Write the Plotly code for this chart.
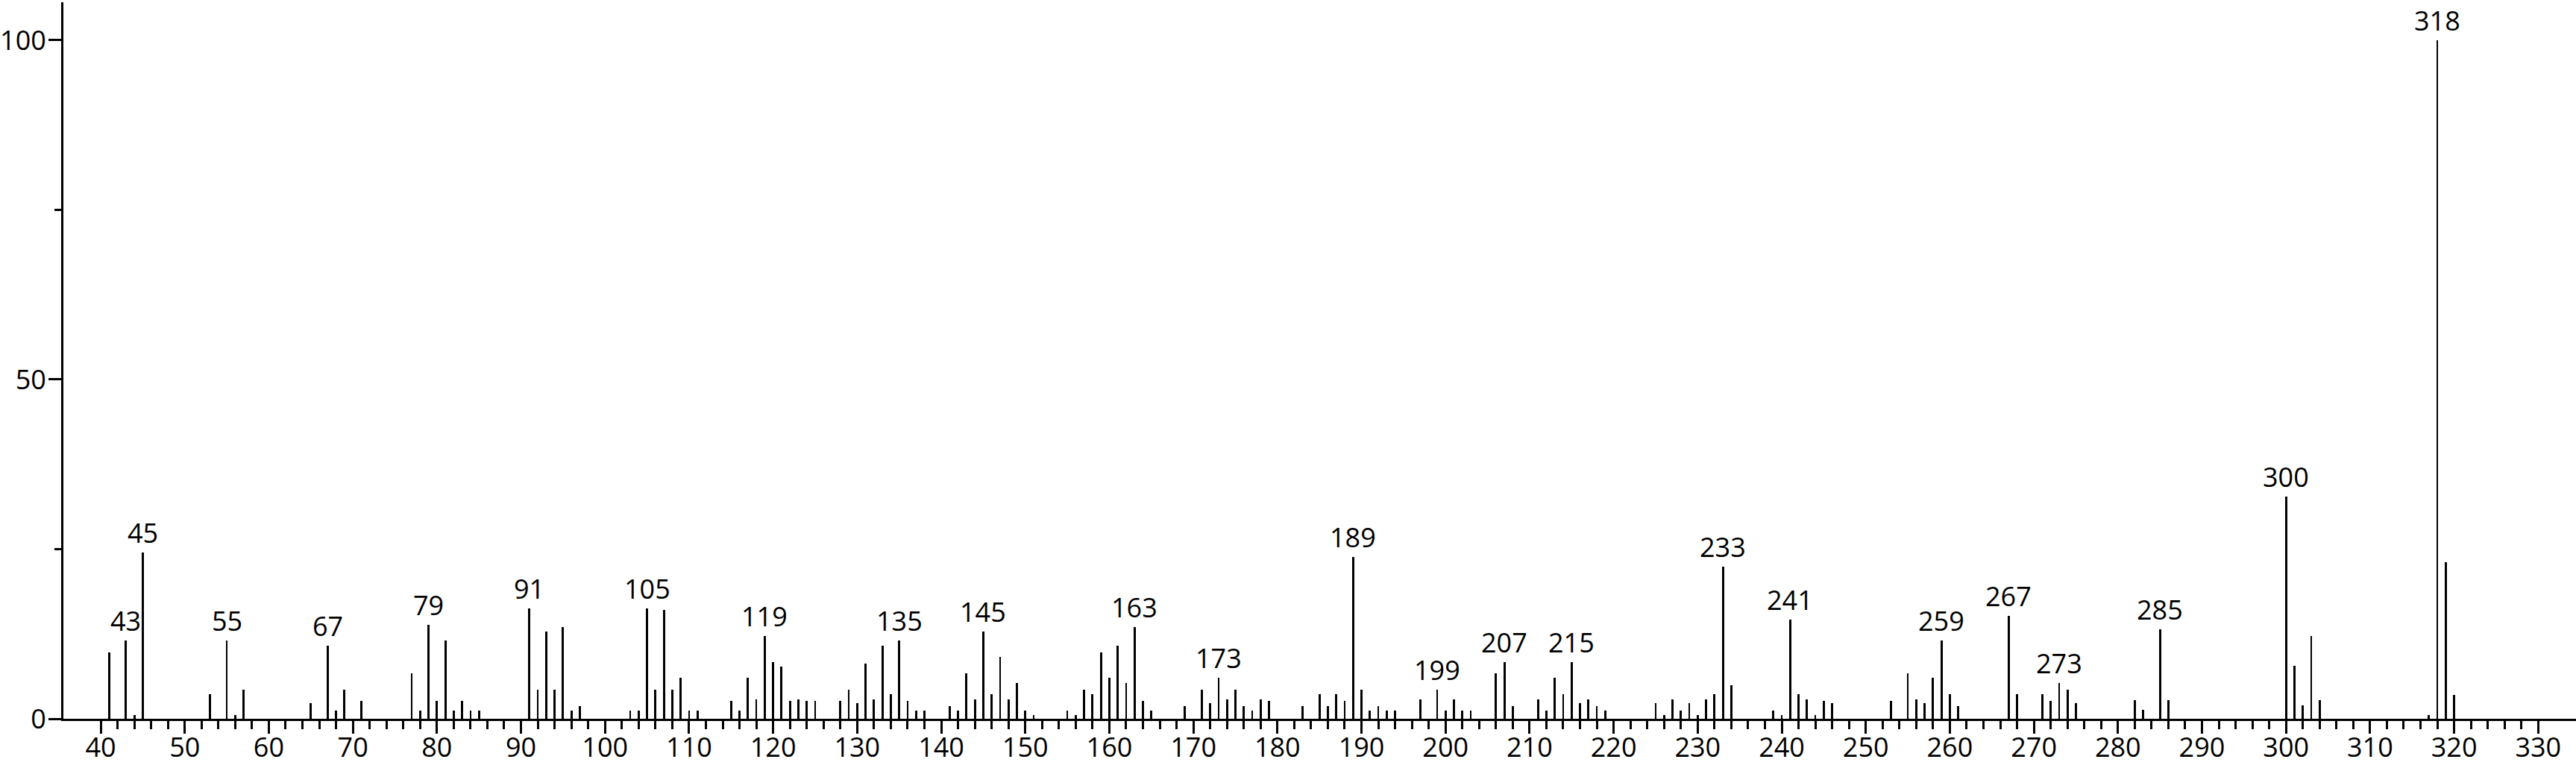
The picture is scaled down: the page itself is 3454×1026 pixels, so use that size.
import plotly.graph_objects as go

# m/z values
mz = [41, 43, 44, 45, 53, 55, 56, 57, 65, 67, 68, 69, 71, 77, 78, 79, 80, 81, 82, 83,
      84, 85, 91, 92, 93, 94, 95, 96, 97, 103, 104, 105, 106, 107, 108, 109, 110, 111,
      115, 116, 117, 118, 119, 120, 121, 122, 123, 124, 125, 128, 129, 130, 131, 132,
      133, 134, 135, 136, 137, 138, 141, 142, 143, 144, 145, 146, 147, 148, 149, 150,
      151, 155, 156, 157, 158, 159, 160, 161, 162, 163, 164, 165, 169, 171, 172, 173,
      174, 175, 176, 177, 178, 179, 183, 185, 186, 187, 188, 189, 190, 191, 192, 193,
      194, 197, 199, 200, 201, 202, 203, 206, 207, 208, 211, 212, 213, 214, 215, 216,
      217, 218, 219, 225, 226, 227, 228, 229, 230, 231, 232, 233, 234, 239, 240, 241,
      242, 243, 244, 245, 246, 253, 255, 256, 257, 258, 259, 260, 261, 267, 268, 271,
      272, 273, 274, 275, 282, 283, 285, 286, 300, 301, 302, 303, 304, 317, 318, 319, 320]

# relative intensities (%)
intensity = [9.8, 11.5, 0.5, 24.5, 3.6, 11.5, 0.5, 4.3, 2.3, 10.8, 1.2, 4.3, 2.6, 6.7, 1.2, 13.9, 2.6, 11.5, 1.2, 2.6,
             1.2, 1.2, 16.3, 4.3, 12.85, 4.3, 13.5, 1.2, 1.9, 1.2, 1.2, 16.3, 4.3, 16.0, 4.3, 6.0, 1.2, 1.2,
             2.6, 1.2, 6.0, 2.9, 12.2, 8.4, 7.7, 2.6, 2.9, 2.6, 2.6, 2.6, 4.3, 2.3, 8.1, 2.9,
             10.8, 3.6, 11.5, 2.6, 1.2, 1.2, 1.9, 1.2, 6.7, 2.9, 12.85, 3.6, 9.1, 2.9, 5.3, 1.2,
             0.5, 1.2, 0.5, 4.3, 3.6, 9.8, 6.0, 10.8, 5.3, 13.5, 2.6, 1.2, 1.9, 4.3, 2.3, 6.0,
             2.9, 4.3, 1.9, 1.2, 2.9, 2.6, 1.9, 3.6, 1.9, 3.6, 2.6, 23.8, 4.3, 1.2, 1.9, 1.2,
             1.2, 2.9, 4.3, 1.2, 2.9, 1.2, 1.2, 6.7, 8.4, 1.9, 2.9, 1.2, 6.0, 3.6, 8.4, 2.3,
             2.9, 1.9, 1.2, 2.3, 0.5, 2.9, 1.2, 2.3, 0.5, 2.9, 3.6, 22.4, 5.0, 1.2, 0.5, 14.6,
             3.6, 2.9, 0.5, 2.6, 2.3, 2.6, 6.7, 2.9, 2.3, 6.0, 11.5, 3.6, 1.9, 15.2, 3.6, 3.6,
             2.6, 5.3, 4.3, 2.3, 2.8, 1.3, 13.2, 2.8, 32.7, 7.8, 2.0, 12.2, 2.8, 0.55, 100.0, 23.1, 3.5]

# peaks that carry an m/z label
labeled_peaks = [43, 45, 55, 67, 79, 91, 105, 119, 135, 145, 163, 173, 189, 199, 207,
                 215, 233, 241, 259, 267, 273, 285, 300, 318]

x_tick_labels = list(range(40, 331, 10))
y_tick_labels = [0, 50, 100]

FONT = "Open Sans"
FS = 36

fig = go.Figure()
fig.add_trace(go.Bar(
    x=mz, y=intensity, width=0.25,
    marker=dict(color="black", line=dict(width=0)),
    showlegend=False,
))

lookup = dict(zip(mz, intensity))
for m in labeled_peaks:
    fig.add_annotation(
        x=m, y=lookup[m], text=str(m), showarrow=False,
        xanchor="center", yanchor="bottom", yshift=0,
        font=dict(family=FONT, size=FS, color="black"),
    )

minor_x = [v for v in range(42, 330, 2) if v % 10 != 0]

fig.update_xaxes(
    range=[35.56, 334.5],
    tickmode="array", tickvals=x_tick_labels, ticktext=[str(v) for v in x_tick_labels],
    ticks="outside", ticklen=17, tickwidth=3, tickcolor="black",
    ticklabelstandoff=-12,
    showline=True, linewidth=3, linecolor="black",
    showgrid=False, zeroline=False,
    tickfont=dict(family=FONT, size=FS, color="black"),
    minor=dict(tickmode="array", tickvals=minor_x, ticks="outside",
               ticklen=11, tickwidth=3, tickcolor="black", showgrid=False),
    automargin=False,
)
fig.update_yaxes(
    range=[0, 105.6],
    tickmode="array", tickvals=y_tick_labels, ticktext=[str(v) for v in y_tick_labels],
    ticks="outside", ticklen=17, tickwidth=3, tickcolor="black",
    ticklabelstandoff=-4,
    showline=True, linewidth=3, linecolor="black",
    showgrid=False, zeroline=False,
    tickfont=dict(family=FONT, size=FS, color="black"),
    minor=dict(tickmode="array", tickvals=[25, 75], ticks="outside",
               ticklen=9, tickwidth=3, tickcolor="black", showgrid=False),
    automargin=False,
)

fig.update_layout(
    width=3454, height=1026,
    margin=dict(l=85, r=0, t=3, b=62, pad=0),
    plot_bgcolor="white", paper_bgcolor="white",
    bargap=0,
    font=dict(family=FONT, size=FS, color="black"),
)

fig.write_html("out.html",
               config={"displayModeBar": False},
               post_script="document.body.style.margin='0';document.body.style.padding='0';")
